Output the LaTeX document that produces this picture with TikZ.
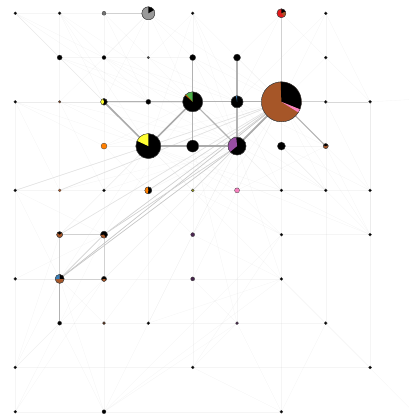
\documentclass[tikz,border=0pt]{standalone}
\usetikzlibrary{backgrounds}
\definecolor{cbrown}{HTML}{A65628}
\definecolor{cpink}{HTML}{F781BF}
\definecolor{cyel}{HTML}{FFFF33}
\definecolor{cgreen}{HTML}{4DAF4A}
\definecolor{cpurp}{HTML}{984EA3}
\definecolor{cred}{HTML}{E41A1C}
\definecolor{cblue}{HTML}{377EB8}
\definecolor{corange}{HTML}{FF7F00}
\definecolor{cgrey}{HTML}{999999}
\tikzset{
  nd/.style={circle, inner sep=0pt, draw=black!75, line width=0.3pt},
  ethick/.style={draw=black!33, line width=1.7pt},
  emed/.style={draw=black!30, line width=1.2pt},
  elight/.style={draw=black!18, line width=0.7pt},
  efaint/.style={draw=black!30, opacity=0.13, line width=0.35pt},
}
% name, col, row, radius(pt), base colour
\newcommand{\gnode}[5]{\node[nd, minimum size=2*#4 pt, fill=#5] (#1) at (#2,#3) {};}
% name, radius, start, end, colour
\newcommand{\gwedge}[5]{\fill[#5] (#1.center) -- ++(#3:#2pt) arc[start angle=#3, end angle=#4, radius=#2pt] -- cycle;}
\newcommand{\gring}[2]{\draw[black!75, line width=0.3pt] (#1.center) circle[radius=#2pt];}
\begin{document}
\begin{tikzpicture}[x=44.35pt, y=-44.27pt]
\useasboundingbox (-0.345,-0.300) rectangle (8.877,9.142);
% row 0
\gnode{n00}{0}{0}{1.5}{black}
\gnode{n10}{1}{0}{1.5}{black}
\gnode{n20}{2}{0}{2}{black!55}
\gnode{n30}{3}{0}{6.5}{cgrey}
\gwedge{n30}{6.5}{30}{90}{black}\gring{n30}{6.5}
\gnode{n40}{4}{0}{1.5}{black}
\gnode{n60}{6}{0}{4.5}{cred}
\gwedge{n60}{4.5}{20}{90}{black}
\gwedge{n60}{4.5}{-45}{20}{cbrown}\gring{n60}{4.5}
\gnode{n70}{7}{0}{1.5}{black}
% row 1
\gnode{n11}{1}{1}{2.5}{black}
\gnode{n21}{2}{1}{2}{black}
\gnode{n31}{3}{1}{1.2}{black!70}
\gnode{n41}{4}{1}{3}{black}
\gnode{n51}{5}{1}{3.5}{black}
\gnode{n71}{7}{1}{1.5}{black}
% row 2
\gnode{n02}{0}{2}{1.5}{black}
\gnode{n12}{1}{2}{1.3}{cbrown!70!black}
\gnode{n22}{2}{2}{3.3}{black}
\gwedge{n22}{3.3}{110}{250}{cyel}\gring{n22}{3.3}
\gnode{n32}{3}{2}{2.5}{black}
\gnode{n42}{4}{2}{10}{black}
\gwedge{n42}{10}{90}{133}{cgreen}
\gwedge{n42}{10}{133}{139}{corange!80!black}\gring{n42}{10}
\gnode{n52}{5}{2}{6}{black}
\gwedge{n52}{6}{90}{100}{cblue}\gring{n52}{6}
\gnode{n62}{6}{2}{20}{cbrown}
\gwedge{n62}{20}{-22}{92}{black}
\gwedge{n62}{20}{-32}{-22}{cpink}\gring{n62}{20}
\gnode{n72}{7}{2}{1.5}{black}
\gnode{n82}{8}{2}{1.5}{black}
% row 3
\gnode{n23}{2}{3}{3}{corange}
\gnode{n33}{3}{3}{12.5}{black}
\gwedge{n33}{12.5}{90}{155}{cyel}\gring{n33}{12.5}
\gnode{n43}{4}{3}{6}{black}
\gnode{n53}{5}{3}{9}{black}
\gwedge{n53}{9}{95}{220}{cpurp}\gring{n53}{9}
\gnode{n63}{6}{3}{4}{black}
\gnode{n73}{7}{3}{2.5}{cbrown}
\gwedge{n73}{2.5}{20}{160}{black}\gring{n73}{2.5}
% row 4
\gnode{n04}{0}{4}{1.5}{black}
\gnode{n14}{1}{4}{1.5}{cbrown}
\gnode{n24}{2}{4}{1.5}{black}
\gnode{n34}{3}{4}{3.5}{black}
\gwedge{n34}{3.5}{100}{260}{corange}\gring{n34}{3.5}
\gnode{n44}{4}{4}{1.5}{cyel!60!black}
\gnode{n54}{5}{4}{2.5}{cpink}
\gnode{n64}{6}{4}{1.5}{black}
\gnode{n74}{7}{4}{1.5}{black}
\gnode{n84}{8}{4}{1.5}{black}
% row 5
\gnode{n15}{1}{5}{3}{cbrown}
\gwedge{n15}{3}{40}{140}{black}\gring{n15}{3}
\gnode{n25}{2}{5}{3.5}{black}
\gwedge{n25}{3.5}{190}{300}{cbrown}\gring{n25}{3.5}
\gnode{n45}{4}{5}{2}{cpurp!50!black}
\gnode{n65}{6}{5}{1.5}{black}
\gnode{n85}{8}{5}{1.5}{black}
% row 6
\gnode{n06}{0}{6}{1.5}{black}
\gnode{n16}{1}{6}{4.5}{cbrown}
\gwedge{n16}{4.5}{0}{90}{black}
\gwedge{n16}{4.5}{90}{185}{cblue}\gring{n16}{4.5}
\gnode{n26}{2}{6}{2.5}{black}
\gwedge{n26}{2.5}{200}{340}{cbrown}\gring{n26}{2.5}
\gnode{n46}{4}{6}{2}{cpurp!45!black}
\gnode{n66}{6}{6}{1.5}{black}
% row 7
\gnode{n17}{1}{7}{2}{black}
\gnode{n27}{2}{7}{1.5}{cbrown!50!black}
\gnode{n37}{3}{7}{1.5}{black}
\gnode{n57}{5}{7}{1.5}{cpurp!45!black}
\gnode{n77}{7}{7}{1.5}{black}
% row 8
\gnode{n08}{0}{8}{1.5}{black}
\gnode{n48}{4}{8}{1.5}{black}
\gnode{n88}{8}{8}{1.5}{black}
% row 9
\gnode{n09}{0}{9}{1.5}{black}
\gnode{n29}{2}{9}{2}{black}
\gnode{n69}{6}{9}{1.5}{black}
\coordinate (edgeSE) at (8.877,8.90);
\coordinate (edgeE) at (8.877,1.95);
\begin{scope}[on background layer]
% faint background connectors
\foreach \a/\b in {n10/n11,n11/n12,n02/n04,n04/n06,n06/n08,n08/n09,n12/n14,n14/n15,n20/n21,n21/n22,n22/n23,n23/n24,n24/n25,n26/n27,n27/n29,n30/n31,n31/n32,n32/n33,n33/n34,n34/n37,n40/n41,n43/n44,n44/n45,n45/n46,n46/n48,n53/n54,n54/n57,n62/n63,n63/n64,n64/n65,n65/n66,n66/n69,n70/n71,n71/n72,n72/n73,n73/n74,n74/n77,n82/n84,n84/n85,n85/n88,
n00/n10,n10/n20,n11/n21,n21/n31,n31/n41,n02/n12,n12/n22,n04/n14,n14/n24,n24/n34,n34/n44,n44/n54,n54/n64,n64/n74,n74/n84,n06/n16,n26/n46,n46/n66,n17/n27,n27/n37,n37/n57,n57/n77,n08/n48,n48/n88,n09/n29,n29/n69,n63/n73,n82/edgeE,
n00/n11,n00/n22,n00/n33,n00/n32,n00/n21,n10/n22,n10/n32,n10/n42,n10/n33,n20/n42,n20/n32,n30/n42,n30/n52,n30/n62,n30/n21,n30/n12,n30/n22,n40/n62,n40/n52,n40/n31,n40/n53,n40/n33,n60/n52,n60/n71,n60/n51,n70/n62,n70/n82,n70/n52,n71/n62,n71/n82,n11/n33,n11/n42,n11/n32,n21/n42,n21/n53,n02/n14,n02/n23,n02/n33,n02/n42,n12/n33,n12/n24,n12/n42,n23/n34,n23/n53,n23/n62,n23/n42,n33/n54,n33/n65,n33/n85,n33/n64,n33/n44,n33/edgeSE,n43/n65,n43/n57,n42/n64,n42/n74,n52/n64,n52/n74,n53/n64,n53/n66,n53/n45,n53/n37,n53/n27,n53/n74,n62/n74,n62/n84,n62/n85,n62/n54,n62/n45,n62/n46,n62/n64,n63/n84,n73/n85,n04/n16,n04/n25,n14/n53,n24/n42,n34/n62,n34/n53,n44/n62,n54/n73,n15/n42,n15/n33,n16/n33,n16/n08,n16/n06,n16/n27,n17/n08,n17/n29,n25/n17,n25/n42,n26/n62,n26/n53,n26/n09,n29/n45,n29/n57,n29/n66,n29/n16,n29/n65,n37/n66,n48/n57,n48/n69,n48/n65,n57/n69,n69/n77,n66/n77,n77/n88,n65/n85,n64/n85,n08/n26,n08/n15,n09/n17,n06/n25,n14/n62,n24/n53,n45/n66,n46/n57,n34/n45,n44/n65,n54/n74,n52/n73,n41/n53,n51/n62,n41/n62,n31/n52,n21/n52,n32/n53,n22/n53,n12/n53,n63/n74,n63/n85,n72/n84,n82/n85}
  \draw[efaint] (\a) -- (\b);
% lighter connectors
\draw[elight] (n20) -- (n30);
\draw[elight] (n60) -- (n62);
\draw[elight] (n62) -- (n72);
\draw[efaint, opacity=0.5] (n72) -- (n82);
\draw[elight] (n15) -- (n25);
\draw[elight] (n15) -- (n16);
\draw[elight] (n25) -- (n26);
\draw[elight] (n16) -- (n26);
\draw[elight] (n16) -- (n25);
\draw[elight, draw=black!22] (n16) -- (n53);
\draw[elight, draw=black!22] (n16) -- (n62);
\draw[elight] (n25) -- (n53);
\draw[elight] (n25) -- (n62);
\draw[elight, draw=black!11] (n15) -- (n62);
\draw[elight, draw=black!11] (n14) -- (n62);
\draw[elight, draw=black!11] (n04) -- (n62);
\draw[elight, draw=black!14] (n34) -- (n62);
\draw[elight, draw=black!14] (n44) -- (n62);
% main connectors
\draw[emed] (n16) -- (n17);
\draw[emed] (n22) -- (n32);
\draw[emed] (n32) -- (n42);
\draw[emed] (n42) -- (n52);
\draw[emed] (n52) -- (n62);
\draw[ethick] (n22) -- (n33);
\draw[ethick] (n33) -- (n42);
\draw[ethick] (n33) -- (n43);
\draw[ethick] (n43) -- (n53);
\draw[emed] (n42) -- (n43);
\draw[emed] (n42) -- (n53);
\draw[emed] (n52) -- (n53);
\draw[emed] (n51) -- (n52);
\draw[emed] (n41) -- (n42);
\draw[ethick] (n53) -- (n62);
\draw[emed] (n62) -- (n73);
\end{scope}
\end{tikzpicture}
\end{document}
